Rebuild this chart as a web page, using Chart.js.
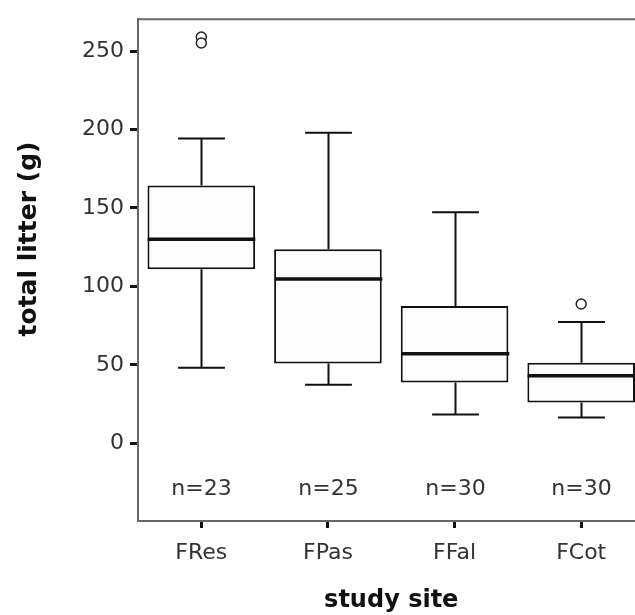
<!DOCTYPE html>
<html>
<head>
<meta charset="utf-8">
<script src="https://cdn.jsdelivr.net/npm/chart.js@4/dist/chart.umd.min.js"></script>
<style>
  html, body { margin: 0; padding: 0; background: #fff; overflow: hidden; }
  #wrap { width: 635px; height: 615px; overflow: hidden; }
  canvas { display: block; }
</style>
</head>
<body>
<div id="wrap"><canvas id="boxChart" width="651" height="615"></canvas></div>
<script>
// datos (g de hojarasca por sitio)
const sites = ['FRes', 'FPas', 'FFal', 'FCot'];
const lowerWhisker = [48.2, 37.4, 18.4, 16.5];
const q1 = [111.0, 50.8, 38.7, 26.0];
const median = [130.1, 104.7, 57.1, 43.1];
const q3 = [164.3, 123.7, 87.6, 51.4];
const upperWhisker = [194.2, 198.0, 147.2, 77.4];
const outliers = [
    { x: 'FRes', y: 258.9 },
    { x: 'FRes', y: 255.1 },
    { x: 'FCot', y: 88.8 }
];
const nCounts = [23, 25, 30, 30];
const yTicks = [0, 50, 100, 150, 200, 250];

const tickFont = { family: 'DejaVu Sans', size: 22 };
const titleFont = { family: 'DejaVu Sans', size: 24, weight: 'bold' };

// bigotes, medianas, n= y título del eje Y
const boxExtras = {
    id: 'boxExtras',
    afterDatasetsDraw(chart) {
        const { ctx, chartArea, scales: { x, y } } = chart;
        const catW = x.getPixelForValue(1) - x.getPixelForValue(0);
        const capHalf = catW * 0.185;
        const boxHalf = catW * 0.85 / 2;

        ctx.save();
        ctx.strokeStyle = '#111';
        sites.forEach((s, i) => {
            const cx = Math.round(x.getPixelForValue(i)) + 0.5;
            ctx.lineWidth = 2;
            ctx.beginPath();
            ctx.moveTo(cx, y.getPixelForValue(q3[i]));
            ctx.lineTo(cx, y.getPixelForValue(upperWhisker[i]));
            ctx.moveTo(cx - capHalf, y.getPixelForValue(upperWhisker[i]));
            ctx.lineTo(cx + capHalf, y.getPixelForValue(upperWhisker[i]));
            ctx.moveTo(cx, y.getPixelForValue(q1[i]));
            ctx.lineTo(cx, y.getPixelForValue(lowerWhisker[i]));
            ctx.moveTo(cx - capHalf, y.getPixelForValue(lowerWhisker[i]));
            ctx.lineTo(cx + capHalf, y.getPixelForValue(lowerWhisker[i]));
            ctx.stroke();

            ctx.lineWidth = 3.5;
            ctx.beginPath();
            ctx.moveTo(cx - boxHalf, y.getPixelForValue(median[i]));
            ctx.lineTo(cx + boxHalf, y.getPixelForValue(median[i]));
            ctx.stroke();

            ctx.fillStyle = '#333';
            ctx.font = '22px "DejaVu Sans"';
            ctx.textAlign = 'center';
            ctx.textBaseline = 'middle';
            ctx.fillText('n=' + nCounts[i], cx, y.getPixelForValue(-29.5));
        });

        // borde superior del área
        ctx.strokeStyle = '#666';
        ctx.lineWidth = 2;
        ctx.beginPath();
        ctx.moveTo(chartArea.left, chartArea.top);
        ctx.lineTo(chartArea.right + 2, chartArea.top);
        ctx.stroke();

        // título eje Y
        ctx.translate(29, 239);
        ctx.rotate(-Math.PI / 2);
        ctx.fillStyle = '#111';
        ctx.font = 'bold 25px "DejaVu Sans"';
        ctx.textAlign = 'center';
        ctx.textBaseline = 'middle';
        ctx.fillText('total litter (g)', 0, 0);
        ctx.restore();
    }
};

const ctx = document.getElementById('boxChart').getContext('2d');
const boxChart = new Chart(ctx, {
    type: 'bar',
    data: {
        labels: sites,
        datasets: [{
            label: 'box',
            data: sites.map((s, i) => [q1[i], q3[i]]),
            backgroundColor: '#fdfdfd',
            borderColor: '#111',
            borderWidth: 2,
            borderSkipped: false,
            barPercentage: 0.85,
            categoryPercentage: 1
        }, {
            type: 'line',
            label: 'outliers',
            data: outliers,
            showLine: false,
            pointStyle: 'circle',
            pointRadius: 5,
            pointBackgroundColor: '#fff',
            pointBorderColor: '#222',
            pointBorderWidth: 1.5
        }]
    },
    options: {
        responsive: false,
        animation: false,
        devicePixelRatio: 1,
        layout: { padding: { top: 17, right: 1, left: 0, bottom: 0 } },
        plugins: {
            legend: { display: false },
            tooltip: { enabled: false }
        },
        scales: {
            x: {
                grid: { offset: false, drawOnChartArea: false, drawTicks: true, tickLength: 7, tickWidth: 3, tickColor: '#111' },
                border: { display: true, color: '#666', width: 2 },
                ticks: { font: tickFont, color: '#333', padding: 12 },
                title: { display: true, text: 'study site', font: titleFont, color: '#111', padding: { top: 0, bottom: 0 } },
                afterFit(scale) { scale.height = 94; }
            },
            y: {
                min: -49.5,
                max: 270.3,
                afterBuildTicks(scale) { scale.ticks = yTicks.map(v => ({ value: v })); },
                grid: { drawOnChartArea: false, drawTicks: true, tickLength: 8, tickWidth: 3, tickColor: '#111' },
                border: { display: true, color: '#666', width: 2 },
                ticks: { font: tickFont, color: '#333', padding: 6 },
                afterFit(scale) { scale.width = 138; }
            }
        }
    },
    plugins: [boxExtras]
});
</script>
</body>
</html>
